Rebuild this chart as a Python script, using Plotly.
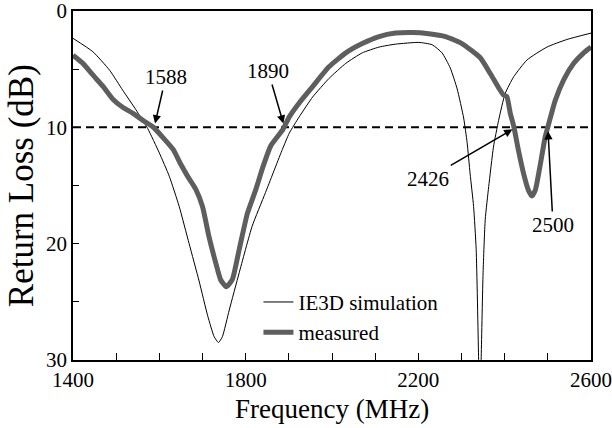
import plotly.graph_objects as go

# IE3D simulation (thin black) - frequency in MHz, return loss in dB
sim_freq = [1400, 1446, 1485, 1515, 1546, 1573, 1600, 1623, 1646, 1669,
            1692, 1712, 1727, 1737, 1746, 1762, 1785, 1815, 1846, 1885,
            1901, 1924, 1955, 1993, 2032, 2070, 2109, 2147, 2201, 2232,
            2255, 2274, 2290, 2305, 2313, 2320, 2328, 2334, 2339.5, 2342.5,
            2345.7, 2350, 2355, 2363, 2374, 2386, 2401, 2421, 2452, 2498,
            2544, 2600]
sim_loss = [2.35, 3.5, 5.1, 6.8, 8.5, 10.1, 12.2, 14.2, 16.8, 20.0,
            23.2, 26.2, 28.0, 28.5, 28.0, 25.7, 22.5, 18.5, 15.6, 11.9,
            10.5, 9.1, 7.4, 5.8, 4.5, 3.6, 3.1, 2.85, 2.7, 2.9,
            3.6, 4.9, 6.7, 9.2, 11.3, 14.0, 16.8, 20.5, 29.7, 36.0,
            29.7, 22.5, 17.9, 15.1, 11.7, 9.4, 7.1, 5.65, 4.2, 3.1,
            2.45, 1.9]

# measured (thick gray)
meas_freq = [1400, 1423, 1446, 1470, 1493, 1516, 1539, 1562, 1585, 1609,
             1632, 1650, 1667, 1684, 1700, 1715, 1731, 1742, 1755, 1769,
             1785, 1804, 1823, 1840, 1858, 1886, 1901, 1924, 1955, 1993, 2032,
             2070, 2109, 2147, 2186, 2224, 2263, 2301, 2343, 2367, 2386,
             2397, 2405, 2413, 2421, 2432, 2444, 2455, 2463, 2471, 2483,
             2494, 2502, 2517, 2537, 2560, 2583, 2600]
meas_loss = [3.8, 4.5, 5.5, 6.5, 7.6, 8.3, 8.8, 9.4, 9.95, 10.9,
             11.9, 13.2, 14.3, 15.3, 16.8, 19.4, 21.7, 23.1, 23.7, 23.1,
             20.5, 17.4, 15.4, 13.4, 11.6, 10.2, 9.1, 7.9, 6.5, 4.8, 3.6,
             2.8, 2.2, 1.9, 1.85, 1.95, 2.2, 2.8, 4.0, 5.4, 6.6,
             7.2, 7.35, 8.8, 9.9, 12.0, 14.0, 15.4, 15.9, 15.4, 13.1,
             10.8, 9.7, 7.7, 5.9, 4.5, 3.6, 3.1]

# 10 dB reference line
ref_freq = [1400, 2600]
ref_loss = [10, 10]

# marked band edges (MHz)
edge_labels = [1588, 1890, 2426, 2500]

x_tick_vals = [1400, 1500, 1600, 1700, 1800, 1900, 2000, 2100, 2200, 2300, 2400, 2500, 2600]
x_tick_text = ["1400", "", "", "", "1800", "", "", "", "2200", "", "", "", "2600"]
y_tick_vals = [0, 5, 10, 15, 20, 25, 30]
y_tick_text = ["0", "", "10", "", "20", "", "30"]

serif = "Liberation Serif"

fig = go.Figure()

fig.add_trace(go.Scatter(x=ref_freq, y=ref_loss, mode="lines", showlegend=False,
                         line=dict(color="black", width=2, dash="8px,5px")))
fig.add_trace(go.Scatter(x=sim_freq, y=sim_loss, mode="lines", name="IE3D simulation",
                         line=dict(color="black", width=1, shape="spline", smoothing=0.5)))
fig.add_trace(go.Scatter(x=meas_freq, y=meas_loss, mode="lines", name="measured",
                         line=dict(color="#5e5e5e", width=5, shape="spline", smoothing=0.5)))

# text centre for each arrow label (data coords)
label_pos = [(1615, 5.67), (1852, 5.16), (2223, 14.4), (2512, 18.4)]
for val, (tx, ty) in zip(edge_labels, label_pos):
    fig.add_annotation(x=val, y=10, text=str(val), showarrow=True,
                       axref="x", ayref="y", ax=tx, ay=ty,
                       arrowhead=2, arrowsize=1.1, arrowwidth=1.5, arrowcolor="black",
                       standoff=4, font=dict(family=serif, size=21, color="black"))

# axis titles placed by hand so the margins stay fixed
fig.add_annotation(text="Frequency (MHz)", xref="paper", yref="paper",
                   x=0.5, y=-0.14, xanchor="center", yanchor="middle", showarrow=False,
                   font=dict(family=serif, size=27, color="black"))
fig.add_annotation(text="Return Loss (dB)", xref="paper", yref="paper",
                   x=-0.099, y=0.5, xanchor="center", yanchor="middle", showarrow=False,
                   textangle=-90, font=dict(family=serif, size=35, color="black"))

fig.update_xaxes(range=[1400, 2600], tickvals=x_tick_vals, ticktext=x_tick_text,
                 ticks="inside", ticklen=7, tickwidth=1.2, tickcolor="black",
                 showline=True, linecolor="black", linewidth=1.5, mirror=True,
                 showgrid=False, zeroline=False, automargin=False,
                 ticklabeloverflow="allow",
                 tickfont=dict(family=serif, size=21, color="black"))
fig.update_yaxes(range=[30, 0], tickvals=y_tick_vals, ticktext=y_tick_text,
                 ticks="inside", ticklen=6, tickwidth=1.2, tickcolor="black",
                 showline=True, linecolor="black", linewidth=1.5, mirror=True,
                 showgrid=False, zeroline=False, automargin=False,
                 ticklabeloverflow="allow",
                 tickfont=dict(family=serif, size=21, color="black"))

fig.update_layout(width=612, height=428,
                  margin=dict(l=73, r=21, t=11, b=68, autoexpand=False),
                  paper_bgcolor="white", plot_bgcolor="white",
                  legend=dict(x=0.358, y=0.224, xanchor="left", yanchor="top",
                              bgcolor="rgba(0,0,0,0)",
                              font=dict(family=serif, size=21, color="black")))

# the default page has an 8px body margin; drop it so the figure fills the window
fig.write_html("out.html", config={"displayModeBar": False},
               post_script="document.body.style.margin = '0';")
